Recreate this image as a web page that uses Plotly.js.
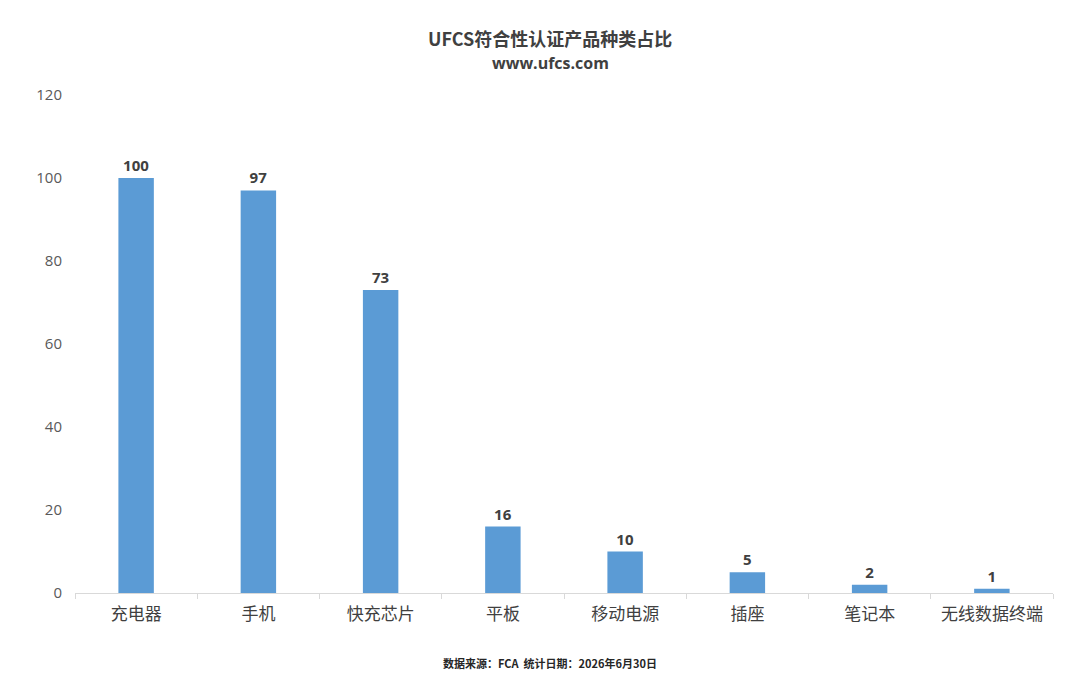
<!DOCTYPE html>
<html>
<head>
<meta charset="utf-8">
<script src="https://cdn.plot.ly/plotly-3.0.1.min.js"></script>
<style>
  html, body { margin: 0; padding: 0; background: #ffffff; }
  #chart { width: 1080px; height: 682px; }
</style>
</head>
<body>
<div id="chart"></div>
<script>
  // 产品种类与数量
  const categorias = ['充电器', '手机', '快充芯片', '平板', '移动电源', '插座', '笔记本', '无线数据终端'];
  const quantidades = [100, 97, 73, 16, 10, 5, 2, 1];
  const ticksY = [0, 20, 40, 60, 80, 100, 120];

  const fonteCJK = '"Noto Sans CJK SC", "Noto Sans", sans-serif';

  const trace = {
    x: categorias,
    y: quantidades,
    type: 'bar',
    width: 0.29,
    marker: { color: '#5b9bd5' },
    text: quantidades.map(String),
    textposition: 'outside',
    cliponaxis: false,
    textfont: { size: 15, color: '#404040', family: 'Open Sans, sans-serif', weight: 700 },
    hoverinfo: 'x+y'
  };

  const layout = {
    width: 1080,
    height: 682,
    margin: { t: 95, b: 89, l: 75, r: 27 },
    paper_bgcolor: '#ffffff',
    plot_bgcolor: '#ffffff',
    showlegend: false,
    xaxis: {
      type: 'category',
      showgrid: false,
      showline: true,
      linecolor: '#d9d9d9',
      linewidth: 1,
      ticks: 'outside',
      tickson: 'boundaries',
      ticklen: 5,
      tickcolor: '#d9d9d9',
      ticklabelstandoff: 6,
      tickfont: { size: 17, color: '#404040', family: fonteCJK },
      zeroline: false
    },
    yaxis: {
      range: [0, 120],
      tickvals: ticksY,
      showgrid: false,
      zeroline: false,
      showline: false,
      ticks: '',
      ticklabelstandoff: 12,
      tickfont: { size: 15, color: '#595959', family: 'Open Sans, sans-serif' }
    },
    annotations: [
      {
        text: '<b>UFCS符合性认证产品种类占比</b>',
        xref: 'paper', yref: 'paper', x: 0.5, y: 1,
        xanchor: 'center', yanchor: 'bottom',
        yshift: 42, xshift: -14,
        showarrow: false,
        font: { size: 18, color: '#404040', family: fonteCJK }
      },
      {
        text: '<b>www.ufcs.com</b>',
        xref: 'paper', yref: 'paper', x: 0.5, y: 1,
        xanchor: 'center', yanchor: 'bottom',
        yshift: 19, xshift: -14,
        showarrow: false,
        font: { size: 16, color: '#404040', family: 'Open Sans, sans-serif' }
      },
      {
        text: '<b>数据来源：FCA  统计日期：2026年6月30日</b>',
        xref: 'paper', yref: 'paper', x: 0.5, y: 0,
        xanchor: 'center', yanchor: 'top',
        yshift: -60, xshift: -14,
        showarrow: false,
        font: { size: 11, color: '#262626', family: fonteCJK }
      }
    ]
  };

  Plotly.newPlot('chart', [trace], layout, { displayModeBar: false, responsive: false });
</script>
</body>
</html>
